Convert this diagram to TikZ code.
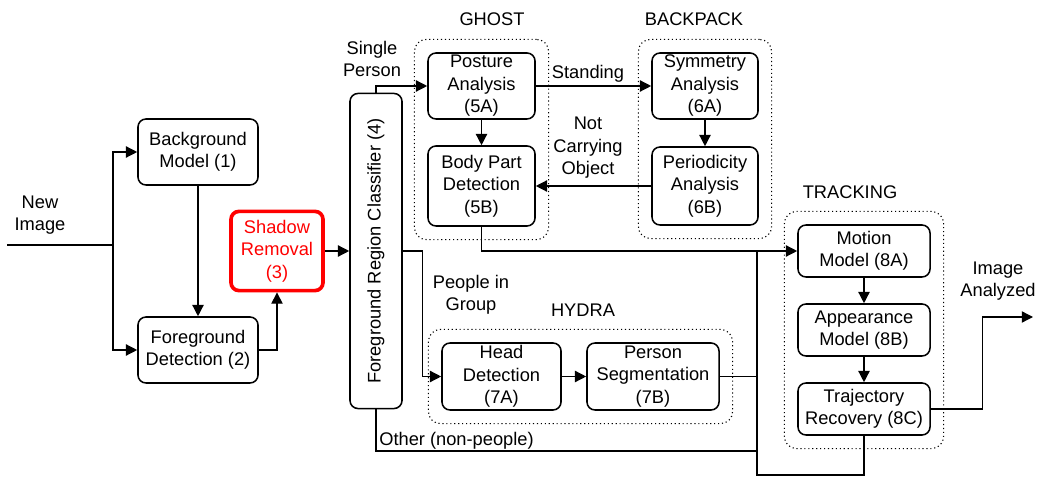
\documentclass[tikz,border=0pt]{standalone}
\usepackage{fontspec}
\setmainfont{Liberation Sans}
\usepackage{graphicx}
\usepackage{tikz}
\usetikzlibrary{positioning,arrows.meta,fit,calc}

\begin{document}
\begin{tikzpicture}[
  x=0.025cm,y=-0.025cm,
  every node/.style={font=\fontsize{13}{16}\selectfont},
  box/.style={rectangle,draw,line width=1.1pt,rounded corners=0.2cm,fill=white,align=center,inner sep=1pt},
  redbox/.style={box,draw=red,line width=2.6pt,text=red},
  group/.style={rectangle,draw,dotted,line width=0.8pt,rounded corners=0.3cm,inner sep=0.32cm},
  lbl/.style={align=center,inner sep=0pt},
  line/.style={line width=0.95pt},
  arr/.style={line,-{Triangle[length=8pt,width=8pt]}},
]
\useasboundingbox (0,0) rectangle (1040,478);

% Preprocessing
\node[box,minimum width=3cm,minimum height=1.65cm] (bg) at (198,152) {Background\\Model (1)};
\node[box,minimum width=3cm,minimum height=1.65cm] (fg) at (198,350) {Foreground\\Detection (2)};
\node[redbox,minimum width=2.3cm,minimum height=1.98cm] (shadow) at (277,251) {Shadow\\Removal\\(3)};
\node[box,minimum width=1.3cm,minimum height=7.875cm] (clf) at (376,251) {\rotatebox{90}{Foreground Region Classifier (4)}};

% GHOST
\node[box,minimum width=2.675cm,minimum height=1.65cm] (posture) at (481.5,86) {Posture\\Analysis\\(5A)};
\node[box,minimum width=2.675cm,minimum height=2cm] (bodypart) at (481.5,186) {Body Part\\Detection\\(5B)};

% BACKPACK
\node[box,minimum width=2.65cm,minimum height=1.65cm] (symmetry) at (705,86) {Symmetry\\Analysis\\(6A)};
\node[box,minimum width=2.65cm,minimum height=1.95cm] (periodicity) at (705,186) {Periodicity\\Analysis\\(6B)};

% HYDRA
\node[box,minimum width=2.975cm,minimum height=1.675cm] (head) at (501.5,376.5) {Head\\Detection\\(7A)};
\node[box,minimum width=3.3cm,minimum height=1.675cm] (segment) at (653,376.5) {Person\\Segmentation\\(7B)};

% TRACKING
\node[box,minimum width=3.3cm,minimum height=1.3cm] (motion) at (864,251) {Motion\\Model (8A)};
\node[box,minimum width=3.3cm,minimum height=1.3cm] (appear) at (864,330) {Appearance\\Model (8B)};
\node[box,minimum width=3.3cm,minimum height=1.3cm] (traj) at (864,409) {Trajectory\\Recovery (8C)};

% Dotted groups
\node[group,fit=(posture)(bodypart)] (ghost) {};
\node[group,fit=(symmetry)(periodicity)] (backpack) {};
\node[group,fit=(head)(segment)] (hydra) {};
\node[group,fit=(motion)(traj)] (tracking) {};
\node[lbl] (ghostlbl) at (492,19) {GHOST};
\node[lbl] (backpacklbl) at (694,19) {BACKPACK};
\node[lbl] (hydralbl) at (583,310) {HYDRA};
\node[lbl] (trackinglbl) at (850,192) {TRACKING};

% Free ends
\coordinate (input) at (7,245);
\coordinate (split) at (113,245);
\coordinate (loop) at (757,475);
\coordinate (other) at (757,451);
\coordinate (output) at (1033,317);

% Connector labels
\node[lbl] (newimg) at (40,215) {New\\Image};
\node[lbl] (single) at (372,59) {Single\\Person};
\node[lbl] (standing) at (588,74) {Standing};
\node[lbl] (notcarry) at (588,148) {Not\\Carrying\\Object};
\node[lbl] (group) at (471,295) {People in\\Group};
\node[lbl,anchor=west] (nonpeople) at (379,441) {Other (non-people)};
\node[lbl] (analyzed) at (998,281) {Image\\Analyzed};

% Connectors
\draw[line] (input) -- (split);
\draw[arr] (split) |- (bg.west);
\draw[arr] (split) |- (fg.west);
\draw[arr] (bg) -- (fg);
\draw[arr] (fg.east) -| (shadow.south);
\draw[arr] (shadow) -- (clf);
\draw[arr] (clf.north) |- (posture.west);
\draw[arr] (clf.east) -- ++(20,0) |- (head.west);
\draw[line] (clf.south) |- (other);
\draw[arr] (posture) -- (bodypart);
\draw[arr] (posture) -- (symmetry);
\draw[arr] (symmetry) -- (periodicity);
\draw[arr] (periodicity) -- (bodypart);
\draw[arr] (head) -- (segment);
\draw[arr] (bodypart.south) |- (motion.west);
\draw[line] (segment.east) -- (segment.east -| loop);
\draw[line] (traj.south) |- (loop) -- (loop |- motion.west);
\draw[arr] (motion) -- (appear);
\draw[arr] (appear) -- (traj);
\draw[arr] (traj.east) -- ++(52,0) |- (output);

\end{tikzpicture}
\end{document}
